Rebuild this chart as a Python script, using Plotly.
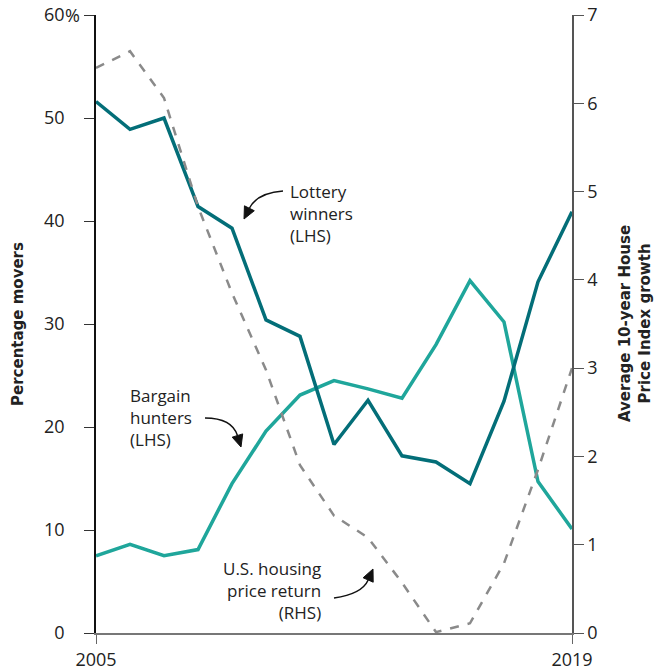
import plotly.graph_objects as go
import math

years = list(range(2005, 2020))
lottery = [51.6, 48.9, 50.0, 41.4, 39.3, 30.4, 28.8, 18.3, 22.6, 17.2, 16.6, 14.5, 22.5, 34.1, 40.9]
bargain = [7.5, 8.6, 7.5, 8.1, 14.5, 19.6, 23.1, 24.5, 23.7, 22.8, 28.0, 34.2, 30.2, 14.7, 10.1]
housing = [6.40, 6.59, 6.06, 4.83, 3.85, 2.98, 1.90, 1.33, 1.08, 0.57, 0.01, 0.11, 0.79, 1.85, 3.00]

left_ticks = [0, 10, 20, 30, 40, 50, 60]
left_text = ["0", "10", "20", "30", "40", "50", "60"]
right_ticks = [0, 1, 2, 3, 4, 5, 6, 7]
x_ticks = [2005, 2019]

W, H = 655, 670
ML, MR, MT, MB = 96, 83, 15, 37
PW, PH = W - ML - MR, H - MT - MB

FONT = "Open Sans"
TFONT = "DejaVu Sans"
TXT = "#222222"
C_LOT = "#036e78"
C_BAR = "#1fa69b"
C_HOU = "#8a8a8a"


def px(xp, yp):
    return (xp - ML) / PW, (H - MB - yp) / PH


fig = go.Figure()
fig.add_trace(go.Scatter(x=years, y=housing, yaxis="y2", mode="lines",
                         line=dict(color=C_HOU, width=2.5, dash="dash"), name="U.S. housing price return"))
fig.add_trace(go.Scatter(x=years, y=bargain, mode="lines",
                         line=dict(color=C_BAR, width=3.5), name="Bargain hunters"))
fig.add_trace(go.Scatter(x=years, y=lottery, mode="lines",
                         line=dict(color=C_LOT, width=3.5), name="Lottery winners"))

shapes = []


def curved_arrow(p0, pc, p1):
    x0, y0 = px(*p0)
    xc, yc = px(*pc)
    dx, dy = p1[0] - pc[0], p1[1] - pc[1]
    L = math.hypot(dx, dy)
    ux, uy = dx / L, dy / L
    hl, hw = 12, 5.5
    bx, by = p1[0] - ux * hl, p1[1] - uy * hl
    xb, yb = px(bx, by)
    shapes.append(dict(type="path", xref="paper", yref="paper",
                       path=f"M {x0},{y0} Q {xc},{yc} {xb},{yb}",
                       line=dict(color="#111111", width=1.5)))
    nx, ny = -uy, ux
    a = px(bx + nx * hw, by + ny * hw)
    b = px(bx - nx * hw, by - ny * hw)
    t = px(*p1)
    shapes.append(dict(type="path", xref="paper", yref="paper",
                       path=f"M {t[0]},{t[1]} L {a[0]},{a[1]} L {b[0]},{b[1]} Z",
                       fillcolor="#111111", line=dict(color="#111111", width=1)))


curved_arrow((283, 191), (257, 193), (244, 219))
curved_arrow((205, 418), (232, 418), (241, 447))
curved_arrow((334, 598), (362, 594), (373, 569))

annotations = []


def label(text, xp, yp, anchor):
    x, y = px(xp, yp)
    annotations.append(dict(text=text, x=x, y=y, xref="paper", yref="paper",
                            xanchor=anchor, yanchor="top", align=anchor, showarrow=False,
                            font=dict(family=FONT, size=17, color=TXT)))


label("Lottery<br>winners<br>(LHS)", 288, 178, "left")
label("Bargain<br>hunters<br>(LHS)", 128, 382, "left")
label("U.S. housing<br>price return<br>(RHS)", 323, 555, "right")

# percent sign hanging after the top left tick label
annotations.append(dict(text="%", x=0, y=60, xref="paper", yref="y", xshift=-33,
                        xanchor="left", yanchor="middle", showarrow=False,
                        font=dict(family=FONT, size=18, color=TXT)))

ax, ay = px(18, 324)
annotations.append(dict(text="<b>Percentage movers</b>", x=ax, y=ay, xref="paper", yref="paper",
                        textangle=-90, showarrow=False, xanchor="center", yanchor="middle",
                        font=dict(family=TFONT, size=15, color=TXT)))
ax, ay = px(635, 324)
annotations.append(dict(text="<b>Average 10-year House<br>Price Index growth</b>", x=ax, y=ay,
                        xref="paper", yref="paper", textangle=-90, showarrow=False,
                        xanchor="center", yanchor="middle",
                        font=dict(family=TFONT, size=15, color=TXT)))

fig.update_layout(
    width=W, height=H,
    margin=dict(l=ML, r=MR, t=MT, b=MB, autoexpand=False),
    plot_bgcolor="white", paper_bgcolor="white",
    showlegend=False,
    font=dict(family=FONT, size=18, color=TXT),
    xaxis=dict(range=[2005, 2019], tickvals=x_ticks, ticks="outside", ticklen=9,
               tickcolor="#666666", showgrid=False, zeroline=False, showline=True,
               linecolor="#777777", linewidth=2, automargin=False,
               tickfont=dict(size=18, color=TXT)),
    yaxis=dict(range=[0, 60], tickvals=left_ticks, ticktext=left_text, ticks="outside",
               ticklen=10, tickcolor="#333333", showgrid=False, zeroline=False,
               showline=True, linecolor="#111111", linewidth=1.5, automargin=False,
               ticklabelstandoff=16, tickfont=dict(size=18, color=TXT)),
    yaxis2=dict(range=[0, 7], tickvals=right_ticks, overlaying="y", side="right",
                ticks="outside", ticklen=10, tickcolor="#555555", showgrid=False,
                zeroline=False, showline=True, linecolor="#555555", linewidth=1.5,
                automargin=False, tickfont=dict(size=18, color=TXT)),
    shapes=shapes,
    annotations=annotations,
)

fig.write_html("out.html")
